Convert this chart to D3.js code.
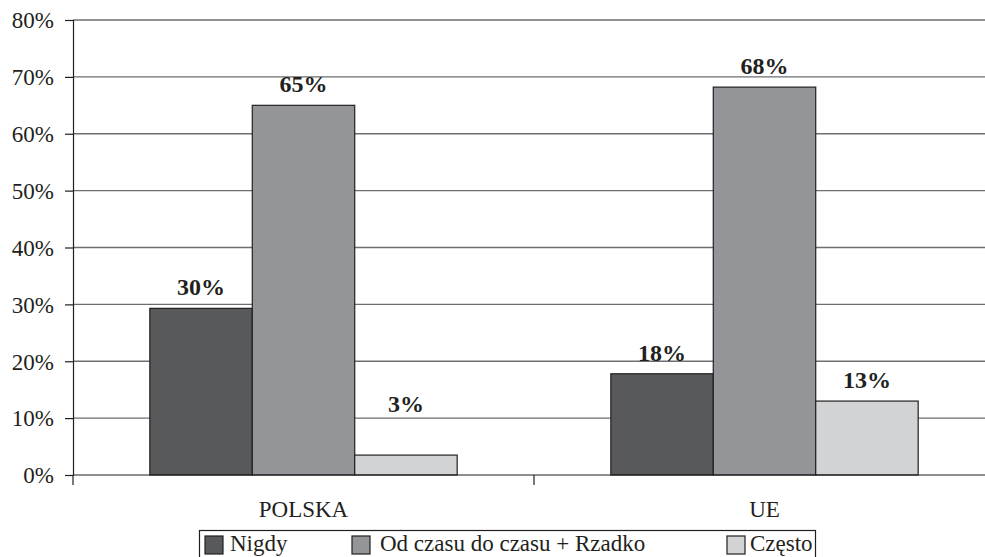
<!DOCTYPE html>
<html>
<head>
<meta charset="utf-8">
<script src="https://cdn.jsdelivr.net/npm/d3@7"></script>
<style>
  body { margin: 0; background: #fff; }
  svg { display: block; }
  svg text { font-family: "Liberation Serif", "Times New Roman", Times, serif; fill: #231f20; }
</style>
</head>
<body>
<div id="chart"></div>
<script>
// data
var categories = ["POLSKA", "UE"];
var seriesNames = ["Nigdy", "Od czasu do czasu + Rzadko", "Często"];
var nigdy = [29.3, 17.8];
var odCzasu = [65.0, 68.2];
var czesto = [3.5, 13.0];
var valueLabels = [["30%", "65%", "3%"], ["18%", "68%", "13%"]];
var yTicks = [0, 10, 20, 30, 40, 50, 60, 70, 80];

var colors = ["#58595b", "#939598", "#d1d3d4"];

var width = 985, height = 557;
var margin = {top: 20, right: -10, bottom: 82, left: 73};
var innerW = width - margin.left - margin.right,
    innerH = height - margin.top - margin.bottom;

var svg = d3.select("#chart").append("svg")
    .attr("width", width)
    .attr("height", height);

var g = svg.append("g")
    .attr("transform", "translate(" + margin.left + "," + margin.top + ")");

// scales
var x0 = d3.scaleBand().domain(categories).range([0, innerW]).paddingInner(0).paddingOuter(0);
var x1 = d3.scaleBand().domain(seriesNames).range([0, x0.bandwidth()]).paddingInner(0).paddingOuter(0.75);
var y = d3.scaleLinear().domain([0, 80]).range([innerH, 0]);

var table = categories.map(function(c, i) {
    return {cat: c, vals: [nigdy[i], odCzasu[i], czesto[i]], labels: valueLabels[i]};
});

// gridlines
g.selectAll(".grid")
    .data(yTicks.slice(1))
    .enter().append("line")
    .attr("class", "grid")
    .attr("x1", 0).attr("x2", innerW)
    .attr("y1", function(d) { return y(d); })
    .attr("y2", function(d) { return y(d); })
    .attr("stroke", "#6d6e71")
    .attr("stroke-width", 1.3);

// bars
var groups = g.selectAll(".grp")
    .data(table)
    .enter().append("g")
    .attr("transform", function(d) { return "translate(" + x0(d.cat) + ",0)"; });

groups.selectAll("rect")
    .data(function(d) { return d.vals.map(function(v, j) { return {key: seriesNames[j], v: v, j: j}; }); })
    .enter().append("rect")
    .attr("x", function(d) { return x1(d.key); })
    .attr("width", x1.bandwidth())
    .attr("y", function(d) { return y(d.v); })
    .attr("height", function(d) { return innerH - y(d.v); })
    .attr("fill", function(d) { return colors[d.j]; })
    .attr("stroke", "#231f20")
    .attr("stroke-width", 1.2);

// value labels above the bars
groups.selectAll("text.lbl")
    .data(function(d) { return d.vals.map(function(v, j) { return {key: seriesNames[j], v: v, t: d.labels[j]}; }); })
    .enter().append("text")
    .attr("class", "lbl")
    .attr("x", function(d) { return x1(d.key) + x1.bandwidth() / 2; })
    .attr("y", function(d) { return Math.min(y(d.v) - 13, y(11)); })
    .attr("text-anchor", "middle")
    .attr("font-size", 24)
    .attr("font-weight", "bold")
    .text(function(d) { return d.t; });

// y axis
var yAxis = g.append("g")
    .call(d3.axisLeft(y).tickValues(yTicks).tickSize(8).tickFormat(function(d) { return d + "%"; }));
yAxis.attr("font-family", null);
yAxis.select(".domain").attr("stroke", "#231f20").attr("stroke-width", 1.2);
yAxis.selectAll(".tick line").attr("stroke", "#231f20").attr("stroke-width", 1.2);
yAxis.selectAll(".tick text")
    .attr("x", -19)
    .attr("dy", "0.34em")
    .attr("font-size", 23);

// x axis
var xAxis = g.append("g")
    .attr("transform", "translate(0," + innerH + ")")
    .call(d3.axisBottom(x0).tickSize(0));
xAxis.attr("font-family", null);
xAxis.select(".domain").remove();
xAxis.append("line")
    .attr("x1", 0).attr("x2", innerW)
    .attr("stroke", "#231f20").attr("stroke-width", 1.2);
xAxis.selectAll(".sep")
    .data(categories)
    .enter().append("line")
    .attr("class", "sep")
    .attr("x1", function(d) { return x0(d); })
    .attr("x2", function(d) { return x0(d); })
    .attr("y1", 0).attr("y2", 10)
    .attr("stroke", "#231f20").attr("stroke-width", 1.2);
xAxis.selectAll(".tick text")
    .attr("y", 26)
    .attr("dy", "0.71em")
    .attr("font-size", 23);

// legend (box runs past the bottom edge like in the original)
var legendX = [205, 352, 727];
var legendTextDx = [25, 28, 23];
var legend = svg.append("g");
legend.append("rect")
    .attr("x", 199.5).attr("y", 530.5)
    .attr("width", 616).attr("height", 40)
    .attr("fill", "none")
    .attr("stroke", "#231f20")
    .attr("stroke-width", 1.2);

var items = legend.selectAll(".item")
    .data(seriesNames)
    .enter().append("g")
    .attr("transform", function(d, i) { return "translate(" + legendX[i] + ",536)"; });
items.append("rect")
    .attr("width", 18).attr("height", 18)
    .attr("fill", function(d, i) { return colors[i]; })
    .attr("stroke", "#231f20")
    .attr("stroke-width", 1.2);
items.append("text")
    .attr("x", function(d, i) { return legendTextDx[i]; })
    .attr("y", 15)
    .attr("font-size", 23)
    .text(function(d) { return d; });
</script>
</body>
</html>
